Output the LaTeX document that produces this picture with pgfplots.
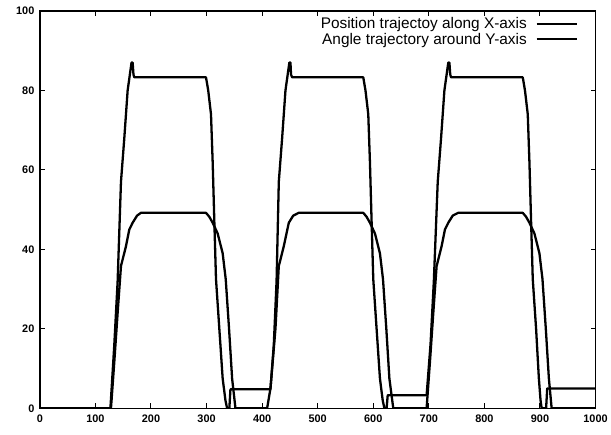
\documentclass[border=0pt]{standalone}
\usepackage{fontspec}
\setmainfont{Liberation Sans}
\usepackage{pgfplots}
\pgfplotsset{compat=1.18}

\begin{document}
\begin{tikzpicture}
\begin{axis}[
    scale only axis,
    width=558bp, height=399bp,
    xmin=0, xmax=1000, ymin=0, ymax=100,
    xtick={0,100,...,1000}, ytick={0,20,...,100},
    tick align=inside,
    major tick length=5bp,
    axis line style={line width=1.4bp},
    tick style={line width=1bp, black},
    /pgf/number format/assume math mode=true,
    /pgf/number format/1000 sep={},
    ticklabel style={font=\bfseries\fontsize{11}{11}\selectfont},
    xticklabel style={yshift=-3bp},
    yticklabel style={xshift=-2bp},
    legend style={at={(0.968,0.989)}, anchor=north east, draw=none, fill=none,
        inner sep=0pt, row sep=-1bp, column sep=7bp,
        font=\fontsize{15.5}{16}\selectfont},
    legend cell align=right,
    legend plot pos=right,
    legend image code/.code={\draw[#1, line width=2bp] (0bp,0bp) -- (40bp,0bp);},
    cycle list={{black,no markers},{black,no markers}},
    every axis plot/.append style={line width=2.3bp, line join=round},
]
% position trajectory along X-axis
\addplot coordinates {
(0,0)(127,0)(134,16)(140,32)(146,57)(152,68)(158,80)(162,84)(165,87)(167,87)(168.5,84)(170,83.3)
(299,83.3)(303,80)(308,74)(311,62)(314,47)(317,32.5)(323,20)(329,7.5)(334,2)(337,0)(341,0)(343,4.8)
(415,4.8)(421,16)(426,32)(430,57)(436,68)(442,80)(446,84)(449,87)(451,87)(452,84)(454,83.3)
(582,83.3)(586,80)(591,74)(594,62)(597,47)(600,32.5)(606,20)(612,7.5)(617,2)(620,0)(624,0)(626,3.3)
(696,3.3)(703,16)(709,32)(716,57)(722,68)(728,80)(732,84)(735,87)(737,87)(738.5,84)(740,83.3)
(869,83.3)(873,80)(878,74)(881,62)(884,47)(887,32.5)(893,20)(898,7.5)(901,2)(903,0)(911,0)(913,5)
(1000,5)
};
\addlegendentry{Position trajectoy along X-axis}
% angle trajectory around Y-axis
\addplot coordinates {
(0,0)(128,0)(134,11.7)(140,24)(146,35.8)(155,40.8)(161,45)(167,46.7)(175,48.5)(182,49.2)
(299,49.2)(305,48.2)(311,46.7)(320,44)(329,39)(334.5,32.5)(340.5,20)(346,7.5)(352,0)
(409,0)(415,5)(424,20)(430,35.8)(439,40.8)(448,46.7)(456,48.5)(466,49.2)
(582,49.2)(588,48.2)(594,46.7)(603,44)(612,39)(617.5,32.5)(623.5,20)(629,7.5)(636,0)
(696,0)(702,11.7)(708,24)(714,35.8)(723,40.8)(729,45)(735,46.7)(743,48.5)(753,49.2)
(869,49.2)(875,48.2)(881,46.7)(890,44)(899,39)(904.5,32.5)(910.5,20)(916,7.5)(921,0)
(1000,0)
};
\addlegendentry{Angle trajectory around Y-axis}
\end{axis}
\path (-40bp,-26bp) rectangle (571bp,410bp);
\end{tikzpicture}
\end{document}
